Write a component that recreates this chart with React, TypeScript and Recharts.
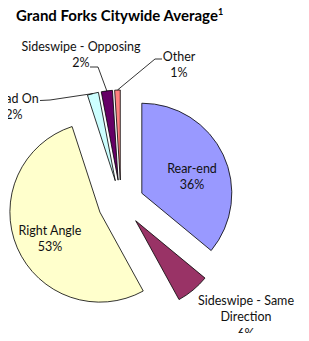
import React from 'react'
import { PieChart, Pie, Cell, Sector } from 'recharts'

const categories = [
  'Rear-end',
  'Sideswipe - Same Direction',
  'Right Angle',
  'Head On',
  'Sideswipe - Opposing',
  'Other',
]
const shares = [36, 6, 53, 2, 2, 1]
const colors = ['#9999FF', '#993366', '#FFFFCC', '#CCFFFF', '#660066', '#FF8080']

// how each label is broken into lines (percent line is added below)
const labelLines = [
  ['Rear-end'],
  ['Sideswipe - Same', 'Direction'],
  ['Right Angle'],
  ['Head On'],
  ['Sideswipe - Opposing'],
  ['Other'],
]

// hand placed labels, like the excel original
const labelPos = [
  { x: 192, y: 168 },
  { x: 246, y: 300 },
  { x: 50, y: 230 },
  { x: 14, y: 98 },
  { x: 81, y: 46 },
  { x: 179, y: 56 },
]
const leaders: (number[][] | null)[] = [
  null,
  null,
  null,
  [[40, 100.5], [50, 100]],
  [[90, 67], [98, 67]],
  [[162, 59], [155, 59]],
]

const EXPLODE = 23
const LINE_H = 16.5
const FONT = 'Lato, "Open Sans", sans-serif'

const data = categories.map((name, i) => ({ name, value: shares[i] }))

const renderSlice = (props: any) => {
  const { cx, cy, midAngle } = props
  const rad = (midAngle * Math.PI) / 180
  return (
    <Sector
      {...props}
      cx={cx + EXPLODE * Math.cos(rad)}
      cy={cy - EXPLODE * Math.sin(rad)}
    />
  )
}

const renderLabel = (props: any) => {
  const { cx, cy, midAngle, outerRadius, index, percent } = props
  const rad = (midAngle * Math.PI) / 180
  const r = EXPLODE + outerRadius
  const ex = cx + r * Math.cos(rad)
  const ey = cy - r * Math.sin(rad)
  const pos = labelPos[index]
  const lines = [...labelLines[index], `${Math.round(percent * 100)}%`]
  const leader = leaders[index]
  return (
    <g key={`lbl-${index}`}>
      {leader && (
        <polyline
          points={[...leader, [ex, ey]].map((p) => p.join(',')).join(' ')}
          fill="none"
          stroke="#000"
          strokeWidth={0.8}
        />
      )}
      {lines.map((l, i) => (
        <text
          key={i}
          x={pos.x}
          y={pos.y + i * LINE_H}
          textAnchor="middle"
          dominantBaseline="central"
          fontFamily={FONT}
          fontSize={12.5}
          fill="#111"
        >
          {l}
        </text>
      ))}
    </g>
  )
}

export default function App() {
  return (
    <div style={{ margin: -8, position: 'relative', width: 309, height: 341 }}>
      <div
        style={{
          position: 'absolute',
          left: 16,
          top: 6,
          fontFamily: FONT,
          fontWeight: 700,
          fontSize: 15,
          color: '#000',
          whiteSpace: 'nowrap',
        }}
      >
        Grand Forks Citywide Average<sup style={{ fontSize: 9 }}>1</sup>
      </div>
      <PieChart width={309} height={341} margin={{ top: 0, right: 0, bottom: 0, left: 0 }}>
        <Pie
          data={data}
          dataKey="value"
          nameKey="name"
          cx={121}
          cy={203}
          outerRadius={90}
          startAngle={90}
          endAngle={-270}
          stroke="#000"
          strokeWidth={0.8}
          shape={renderSlice}
          label={renderLabel}
          labelLine={false}
          isAnimationActive={false}
        >
          {data.map((d, i) => (
            <Cell key={d.name} fill={colors[i]} />
          ))}
        </Pie>
      </PieChart>
    </div>
  )
}
